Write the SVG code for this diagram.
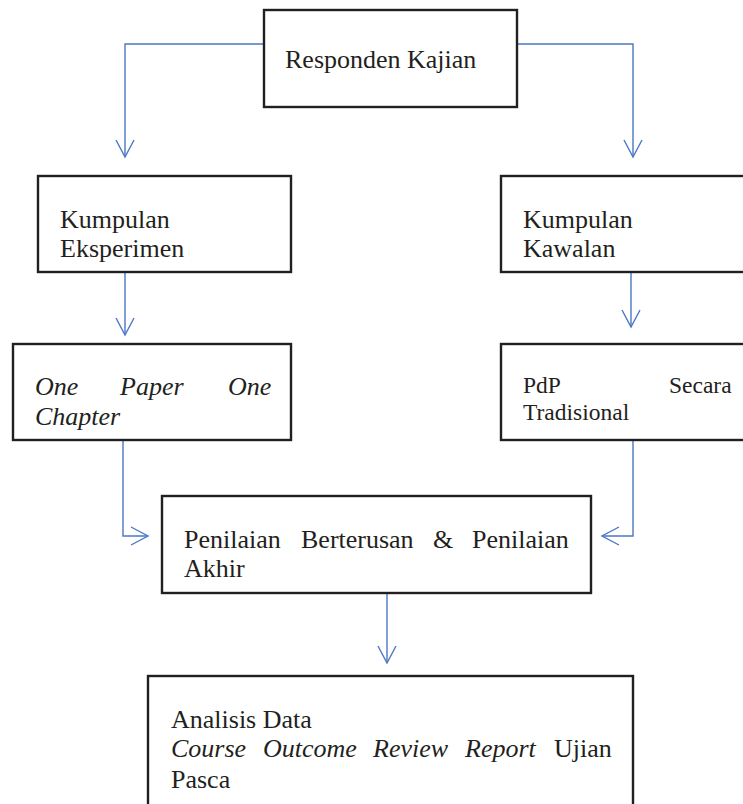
<svg xmlns="http://www.w3.org/2000/svg" width="743" height="804" viewBox="0 0 743 804">
  <style>
    .box { fill: #ffffff; stroke: #231f20; stroke-width: 2.4; }
    .lbl { font-size: 26px; fill: #231f20; }
    .sm { font-size: 23.5px; }
    .it { font-style: italic; }
    .link { fill: none; stroke: #4a78c4; stroke-width: 1.4; }
  </style>
  <defs>
    <marker id="open-arrow" markerUnits="userSpaceOnUse" markerWidth="20" markerHeight="22" viewBox="-18 -10 20 20" refX="0" refY="0" orient="auto">
      <path d="M-17,-9 L0,0 L-17,9" fill="none" stroke="#4a78c4" stroke-width="1.4"/>
    </marker>
  </defs>

  <rect width="743" height="804" fill="#ffffff"/>

  <!-- connectors -->
  <g id="connectors">
    <path class="link" d="M264,44 H125 V157" marker-end="url(#open-arrow)"/>
    <path class="link" d="M517,44 H633 V157" marker-end="url(#open-arrow)"/>
    <path class="link" d="M125,272 V335" marker-end="url(#open-arrow)"/>
    <path class="link" d="M631,272 V327" marker-end="url(#open-arrow)"/>
    <path class="link" d="M123,440 V536 H148" marker-end="url(#open-arrow)"/>
    <path class="link" d="M633,441 V536 H602" marker-end="url(#open-arrow)"/>
    <path class="link" d="M387,593 V663" marker-end="url(#open-arrow)"/>
  </g>

  <g font-family="Liberation Serif, DejaVu Serif, serif">
  <!-- study respondents -->
  <g id="responden">
    <rect class="box" x="264" y="10" width="253" height="97"/>
    <text class="lbl" x="285" y="68">Responden Kajian</text>
  </g>

  <!-- experimental group -->
  <g id="eksperimen">
    <rect class="box" x="38" y="176" width="253" height="96"/>
    <text class="lbl" x="60" y="228">Kumpulan</text>
    <text class="lbl" x="60" y="257">Eksperimen</text>
  </g>

  <!-- control group -->
  <g id="kawalan">
    <rect class="box" x="501" y="176" width="260" height="96"/>
    <text class="lbl" x="523" y="228">Kumpulan</text>
    <text class="lbl" x="523" y="257">Kawalan</text>
  </g>

  <!-- One Paper One Chapter -->
  <g id="opoc">
    <rect class="box" x="13" y="344" width="278" height="96"/>
    <text class="lbl it" y="395"><tspan x="35">One</tspan><tspan x="120">Paper</tspan><tspan x="228">One</tspan></text>
    <text class="lbl it" x="35" y="425">Chapter</text>
  </g>

  <!-- traditional teaching -->
  <g id="tradisional">
    <rect class="box" x="501" y="344" width="260" height="96"/>
    <text class="lbl sm" y="393"><tspan x="523">PdP</tspan><tspan x="669">Secara</tspan></text>
    <text class="lbl sm" x="523" y="420">Tradisional</text>
  </g>

  <!-- assessment -->
  <g id="penilaian">
    <rect class="box" x="162" y="496" width="429" height="97"/>
    <text class="lbl" y="548"><tspan x="184">Penilaian</tspan><tspan x="301">Berterusan</tspan><tspan x="433">&amp;</tspan><tspan x="472">Penilaian</tspan></text>
    <text class="lbl" x="184" y="577">Akhir</text>
  </g>

  <!-- data analysis -->
  <g id="analisis">
    <rect class="box" x="148" y="676" width="485" height="150"/>
    <text class="lbl" x="171" y="728">Analisis Data</text>
    <text class="lbl" y="757"><tspan class="it" x="171">Course</tspan><tspan class="it" x="263">Outcome</tspan><tspan class="it" x="373">Review</tspan><tspan class="it" x="465">Report</tspan><tspan x="554">Ujian</tspan></text>
    <text class="lbl" x="171" y="788">Pasca</text>
  </g>
  </g>
</svg>
